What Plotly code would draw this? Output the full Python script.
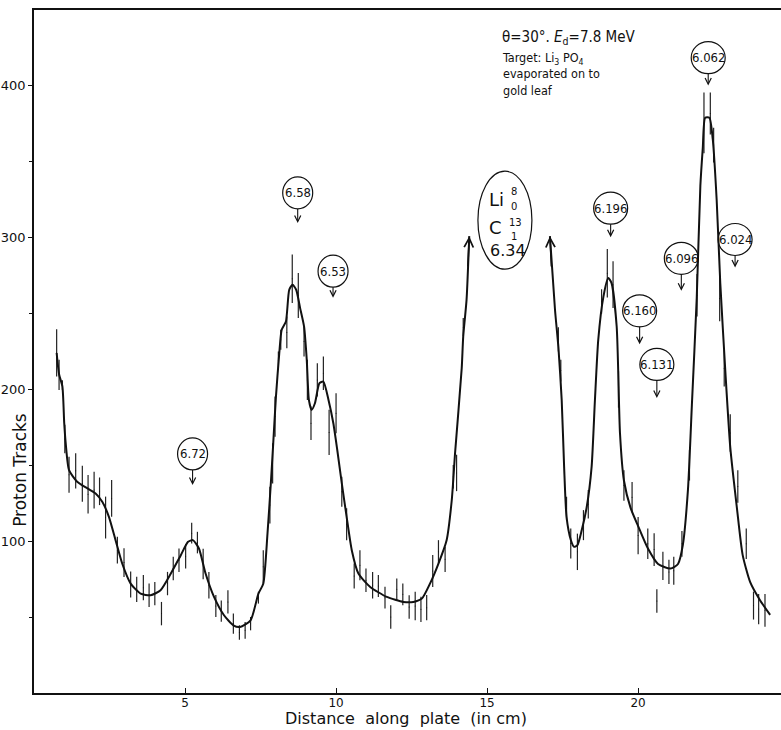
import plotly.graph_objects as go

# ---------------- data ----------------
# smooth fitted curve (left part, before the off-scale Li8 / C13 peak)
fit_x_left = [0.75, 0.83, 0.94, 1.00, 1.05, 1.16, 1.43, 1.77, 2.04, 2.26, 2.48, 2.70, 2.92, 3.20,
              3.53, 3.86, 4.19, 4.53, 4.86, 5.10, 5.26, 5.46, 5.68, 5.96, 6.29, 6.60, 6.82, 7.17,
              7.43, 7.59, 7.73, 7.84, 7.92, 8.01, 8.12, 8.20, 8.34, 8.45, 8.56, 8.68, 8.81, 8.94,
              9.03, 9.10, 9.19, 9.30, 9.45, 9.58, 9.75, 9.91, 10.04, 10.19, 10.35, 10.52, 10.74,
              11.13, 11.68, 12.23, 12.56, 12.84, 13.11, 13.39, 13.66, 13.83, 13.94, 14.16, 14.21,
              14.32, 14.41]
fit_y_left = [224, 210, 202, 178, 164.5, 146.9, 139.2, 134.8, 131.5, 126, 116.1, 100.7, 85.3, 72.1,
              65.5, 64.4, 67.7, 78.7, 90.8, 99.6, 100.7, 95.2, 78.7, 63.3, 51.2, 44.6, 43.5, 47.9,
              65.5, 72, 105, 138, 164.5, 195.3, 223.9, 239.3, 244.8, 265.7, 269, 265.7, 253.6, 241.5,
              219.5, 193.1, 186.5, 190.9, 204.1, 205.2, 193.1, 177.7, 160.1, 138.1, 116.1, 94.1, 78.7,
              69.9, 63.3, 60, 60, 62.2, 72.1, 85.3, 100.7, 127, 158, 214, 235,
              259, 301]

# smooth fitted curve (right part, after the off-scale peak)
fit_x_right = [17.08, 17.25, 17.36, 17.47, 17.55, 17.63, 17.77, 17.88, 17.99, 18.13, 18.30, 18.46,
               18.57, 18.68, 18.85, 19.01, 19.12, 19.29, 19.40, 19.53, 19.75, 20.00, 20.33, 20.66,
               21.07, 21.32, 21.48, 21.65, 21.78, 21.94, 22.06, 22.14, 22.22, 22.36, 22.47, 22.60,
               22.72, 22.89, 23.05, 23.27, 23.46, 23.71, 24.04, 24.37]
fit_y_right = [301, 252, 228, 193, 149, 116, 101, 96.3, 97.4, 107, 122.7, 149,
               193, 232.7, 261, 273.4, 270.1, 241.5, 171, 140, 122, 110, 95, 85,
               82, 85, 97.5, 134, 190, 260, 334, 359, 379, 379, 365, 325,
               270, 211, 162, 122, 91, 73, 61, 51.5]

# measured points (centre and half error bar)
data_x = [0.75, 0.83, 0.94, 1.02, 1.16, 1.38, 1.60, 1.79, 1.99, 2.17, 2.37, 2.57, 2.76, 2.98, 3.20,
          3.40, 3.62, 3.81, 4.00, 4.22, 4.42, 4.61, 4.80, 5.02, 5.22, 5.41, 5.60, 5.79, 6.02, 6.20,
          6.42, 6.60, 6.80, 6.99, 7.17, 7.43, 7.59, 7.81, 7.90, 7.98, 8.09, 8.17, 8.37, 8.55, 8.75,
          8.94, 9.05, 9.17, 9.38, 9.58, 9.77, 10.00, 10.19, 10.35, 10.60, 10.79, 10.99, 11.21, 11.40,
          11.62, 11.81, 12.01, 12.21, 12.42, 12.62, 12.81, 13.00, 13.20, 13.39, 13.61, 13.88, 13.99,
          14.21, 17.36, 17.44, 17.63, 17.77, 17.99, 18.19, 18.35, 18.79, 18.98, 19.17, 19.35, 19.53,
          19.80, 20.00, 20.32, 20.53, 20.62, 20.82, 21.02, 21.18, 21.45, 21.70, 21.95, 22.18, 22.39,
          22.50, 22.70, 22.85, 23.05, 23.30, 23.58, 23.82, 23.99, 24.20]
data_y = [224.1, 209.6, 202.9, 167.3, 143.8, 146.4, 137.9, 131.0, 133.7, 132.9, 115.6, 128.2, 94.1, 85.9, 71.5,
          68.3, 69.4, 64.4, 65.5, 52.3, 72.1, 82.0, 87.5, 90.0, 105.3, 99.1, 85.0, 71.0, 57.3, 54.0,
          60.0, 45.7, 39.9, 41.3, 45.7, 62.8, 83.1, 123.8, 151.3, 182.1, 219.0, 232.7, 237.6, 272.9, 261.9,
          231.6, 206.3, 177.7, 206.3, 210.7, 171.7, 184.3, 132.6, 111.2, 77.1, 84.2, 74.3, 71.0, 70.5,
          62.8, 50.1, 68.3, 65.0, 56.7, 57.3, 55.1, 56.2, 80.4, 93.0, 88.1, 142.5, 145.0,
          241.0, 233.0, 212.4, 121.6, 98.5, 93.0, 110.6, 124.4, 258.0, 276.5, 269.0, 200.0, 136.7,
          129.0, 103.7, 98.3, 94.5, 60.6, 83.7, 79.8, 80.6, 98.3, 150.0, 262.0, 375.6, 381.8,
          361.0, 260.0, 214.0, 171.3, 136.0, 98.3, 57.6, 55.3, 54.5]
data_err = [15.6, 9.9, 3.2, 9.4, 11.9, 11.6, 11.9, 12.7, 12.1, 9.1, 13.8, 12.1, 8.8, 9.4, 8.5,
            8.3, 8.3, 7.7, 7.7, 7.7, 7.7, 7.7, 7.7, 8.0, 6.8, 7.1, 10.0, 8.8, 7.2, 7.0,
            7.7, 6.6, 4.8, 5.5, 4.4, 3.9, 11.0, 12.1, 13.2, 13.2, 6.0, 6.6, 10.4, 16.0, 14.9,
            9.9, 13.2, 11.0, 11.0, 11.0, 14.9, 13.2, 9.9, 10.5, 8.3, 9.9, 7.7, 8.8, 7.2,
            7.2, 7.7, 7.2, 7.2, 7.7, 9.4, 8.3, 8.3, 10.5, 7.7, 8.3, 7.7, 12.0,
            6.0, 8.0, 7.2, 7.7, 9.9, 12.0, 9.9, 9.4, 8.0, 16.0, 15.4, 12.0, 10.0,
            10.0, 12.3, 10.0, 10.8, 7.7, 9.3, 8.0, 9.2, 8.5, 10.0, 14.0, 20.0, 13.8,
            11.5, 15.0, 12.0, 12.3, 10.7, 10.0, 9.2, 10.0, 10.8]

# level labels (MeV) with circle centres and arrow tips
level_labels = ["6.72", "6.58", "6.53", "6.196", "6.160", "6.131", "6.096", "6.062", "6.024"]
label_x = [5.25, 8.73, 9.90, 19.09, 20.05, 20.62, 21.43, 22.32, 23.21]
label_y = [157.5, 329.5, 277.9, 319.4, 251.8, 216.5, 286.4, 418.6, 298.8]
arrow_tip_y = [137.0, 309.6, 260.4, 300.3, 229.8, 194.3, 265.0, 400.2, 280.4]

x_ticks = [5, 10, 15, 20]
y_ticks = [100, 200, 300, 400]
y_minor = [50, 150, 250, 350]

INK = "#111"
FONT = "DejaVu Sans"
NARROW = "Liberation Sans Narrow, DejaVu Sans Condensed, sans-serif"
COND = "DejaVu Sans Condensed, Liberation Sans Narrow, sans-serif"

fig = go.Figure()

# measured points with error bars
fig.add_trace(go.Scatter(
    x=data_x, y=data_y, mode="markers",
    marker=dict(size=1, color=INK),
    error_y=dict(type="data", array=data_err, visible=True, thickness=1.2, width=0, color="#222"),
    showlegend=False, hoverinfo="skip"))

# fitted curve
fig.add_trace(go.Scatter(
    x=fit_x_left + [None] + fit_x_right,
    y=fit_y_left + [None] + fit_y_right,
    mode="lines", line=dict(color=INK, width=2, shape="spline", smoothing=0.6),
    connectgaps=False, showlegend=False, hoverinfo="skip"))

shapes = []
annotations = []

# circled level labels with arrows (text sits at the arrow tail, inside the circle)
for lab, cx, cy, ty in zip(level_labels, label_x, label_y, arrow_tip_y):
    r = 15 if len(lab) <= 4 else 17
    shapes.append(dict(type="circle", xref="x", yref="y", xsizemode="pixel", ysizemode="pixel",
                       xanchor=cx, yanchor=cy, x0=-r, x1=r, y0=-16, y1=16,
                       line=dict(color=INK, width=1.2)))
    annotations.append(dict(x=cx, y=ty, xref="x", yref="y", ax=cx, ay=cy,
                            axref="x", ayref="y", text=lab, showarrow=True, borderpad=8,
                            font=dict(family=NARROW, size=13, color=INK),
                            arrowhead=5, arrowsize=1.1, arrowwidth=1.1, arrowcolor=INK))

# off-scale peak arrows
for xh, yh, xt, yt in [(14.41, 301, 14.36, 280), (17.08, 301, 17.13, 280)]:
    annotations.append(dict(x=xh, y=yh, xref="x", yref="y", ax=xt, ay=yt, axref="x", ayref="y",
                            text="", showarrow=True, arrowhead=5, arrowsize=1.2,
                            arrowwidth=1.5, arrowcolor=INK))

# Li8 / C13 ellipse
shapes.append(dict(type="circle", xref="x", yref="y", xsizemode="pixel", ysizemode="pixel",
                   xanchor=15.59, yanchor=311.5, x0=-27, x1=27, y0=-49, y1=49,
                   line=dict(color=INK, width=1.2)))
big = dict(family=FONT, size=18, color=INK)
num = dict(family=FONT, size=16, color=INK)
small = dict(family=FONT, size=10, color=INK)
for txt, x, y, f, anc in [("Li", 15.0, 325.1, big, "left"), ("8", 15.9, 330.5, small, "center"),
                          ("0", 15.9, 320.5, small, "center"), ("C", 15.0, 306.9, big, "left"),
                          ("13", 15.95, 310.0, small, "center"), ("1", 15.9, 300.8, small, "center"),
                          ("6.34", 15.03, 291.7, num, "left")]:
    annotations.append(dict(x=x, y=y, xref="x", yref="y", text=txt, showarrow=False,
                            xanchor=anc, yanchor="middle", font=f))

# top-right description
annotations.append(dict(x=15.43, y=432.0, xref="x", yref="y",
                        text="θ=30°. <i>E</i><sub>d</sub>=7.8 MeV", showarrow=False,
                        xanchor="left", yanchor="middle",
                        font=dict(family=NARROW, size=15, color=INK)))
annotations.append(dict(x=15.43, y=425.0, xref="x", yref="y",
                        text="Target: Li<sub>3</sub> PO<sub>4</sub><br>evaporated on to<br>gold leaf",
                        showarrow=False, xanchor="left", yanchor="top", align="left",
                        font=dict(family=COND, size=12.5, color=INK)))

# axis titles
annotations.append(dict(x=-0.019, y=146.9, xref="paper", yref="y", text="Proton Tracks",
                        textangle=-90, showarrow=False, xanchor="center", yanchor="middle",
                        font=dict(family=FONT, size=17, color=INK)))
annotations.append(dict(x=12.3, y=-0.0535, xref="x", yref="paper",
                        text="Distance  along  plate  (in cm)",
                        showarrow=False, xanchor="center", yanchor="bottom",
                        font=dict(family=FONT, size=16, color=INK)))

fig.update_layout(
    width=781, height=730,
    margin=dict(l=34, r=0, t=10, b=37),
    paper_bgcolor="white", plot_bgcolor="white",
    shapes=shapes, annotations=annotations,
    showlegend=False,
    xaxis=dict(range=[0, 24.73], tickvals=x_ticks, ticks="inside", ticklen=5, tickwidth=1,
               tickcolor=INK, showline=True, linecolor=INK, linewidth=1.5, mirror=True,
               showgrid=False, zeroline=False, ticklabelstandoff=-2,
               tickfont=dict(family=FONT, size=12, color=INK)),
    yaxis=dict(range=[0, 450], tickvals=y_ticks, ticks="outside", ticklen=4, tickwidth=1,
               tickcolor=INK, showline=True, linecolor=INK, linewidth=1.5,
               showgrid=False, zeroline=False,
               minor=dict(tickvals=y_minor, ticks="outside", ticklen=3, tickcolor=INK),
               tickfont=dict(family=FONT, size=13, color=INK)),
)

fig.write_html("out.html")
